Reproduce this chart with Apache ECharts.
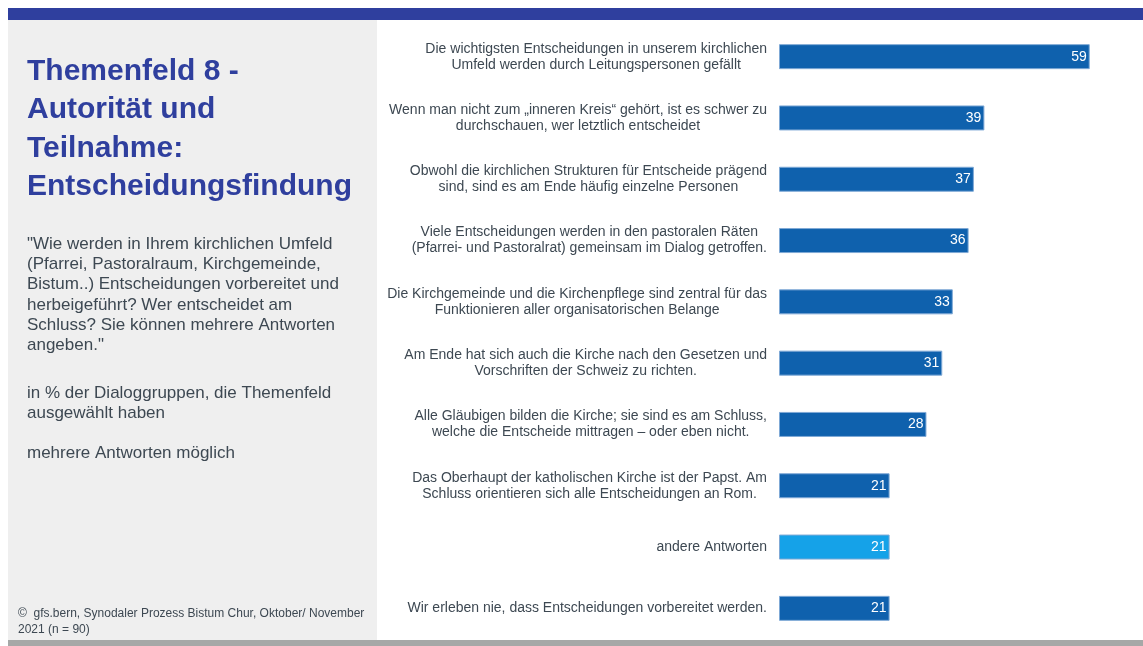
<!DOCTYPE html>
<html>
<head>
<meta charset="utf-8">
<script src="https://cdn.jsdelivr.net/npm/echarts@6/dist/echarts.min.js"></script>
<style>
  html, body { margin: 0; padding: 0; background: #fff; }
  #chart { width: 1143px; height: 646px; }
</style>
</head>
<body>
<div id="chart"></div>
<script>
// answers, top to bottom (two lines each where the slide breaks them)
const categories = [
  "Die wichtigsten Entscheidungen in unserem kirchlichen\nUmfeld werden durch Leitungspersonen gefällt",
  "Wenn man nicht zum „inneren Kreis“ gehört, ist es schwer zu\ndurchschauen, wer letztlich entscheidet",
  "Obwohl die kirchlichen Strukturen für Entscheide prägend\nsind, sind es am Ende häufig einzelne Personen",
  "Viele Entscheidungen werden in den pastoralen Räten\n(Pfarrei- und Pastoralrat) gemeinsam im Dialog getroffen.",
  "Die Kirchgemeinde und die Kirchenpflege sind zentral für das\nFunktionieren aller organisatorischen Belange",
  "Am Ende hat sich auch die Kirche nach den Gesetzen und\nVorschriften der Schweiz zu richten.",
  "Alle Gläubigen bilden die Kirche; sie sind es am Schluss,\nwelche die Entscheide mittragen – oder eben nicht.",
  "Das Oberhaupt der katholischen Kirche ist der Papst. Am\nSchluss orientieren sich alle Entscheidungen an Rom.",
  "andere Antworten",
  "Wir erleben nie, dass Entscheidungen vorbereitet werden."
];
const values = [59, 39, 37, 36, 33, 31, 28, 21, 21, 21];

const titleText = "Themenfeld 8 -\nAutorität und\nTeilnahme:\nEntscheidungsfindung";
const questionText = "\"Wie werden in Ihrem kirchlichen Umfeld\n(Pfarrei, Pastoralraum, Kirchgemeinde,\nBistum..) Entscheidungen vorbereitet und\nherbeigeführt? Wer entscheidet am\nSchluss? Sie können mehrere Antworten\nangeben.\"";
const baseText = "in % der Dialoggruppen, die Themenfeld\nausgewählt haben";
const noteText = "mehrere Antworten möglich";
const sourceText = "©  gfs.bern, Synodaler Prozess Bistum Chur, Oktober/ November\n2021 (n = 90)";

const chart = echarts.init(document.getElementById("chart"));

const option = {
  backgroundColor: "#ffffff",
  textStyle: { fontFamily: "Liberation Sans, Arial, sans-serif" },
  title: {
    text: titleText,
    left: 27,
    top: 52,
    padding: 0,
    textStyle: {
      color: "#2f3f9e",
      fontSize: 30,
      fontWeight: "bold",
      lineHeight: 38.5,
      fontFamily: "Liberation Sans, Arial, sans-serif"
    }
  },
  graphic: [
    // top band, left panel and bottom band
    { type: "rect", z: -10, shape: { x: 8, y: 8, width: 1135, height: 12 }, style: { fill: "#2f3f9e" } },
    { type: "rect", z: -10, shape: { x: 8, y: 20, width: 369, height: 620 }, style: { fill: "#efefef" } },
    { type: "rect", z: -10, shape: { x: 8, y: 640, width: 1135, height: 6 }, style: { fill: "#a6a8a7" } },
    {
      type: "text", left: 27, top: 234,
      style: { text: questionText, fill: "#3d4852", font: "17px Liberation Sans, Arial, sans-serif", lineHeight: 20.3 }
    },
    {
      type: "text", left: 27, top: 383,
      style: { text: baseText, fill: "#3d4852", font: "17px Liberation Sans, Arial, sans-serif", lineHeight: 20.3 }
    },
    {
      type: "text", left: 27, top: 443,
      style: { text: noteText, fill: "#3d4852", font: "17px Liberation Sans, Arial, sans-serif", lineHeight: 20.3 }
    },
    {
      type: "text", left: 18, top: 606,
      style: { text: sourceText, fill: "#3d4852", font: "12px Liberation Sans, Arial, sans-serif", lineHeight: 16 }
    }
  ],
  grid: {
    left: 779,
    right: 48,
    top: 26,
    bottom: 7,
    containLabel: false
  },
  xAxis: {
    type: "value",
    min: 0,
    max: 60,
    show: false
  },
  yAxis: {
    type: "category",
    inverse: true,
    data: categories,
    axisLine: { show: false },
    axisTick: { show: false },
    splitLine: { show: false },
    axisLabel: {
      margin: 12,
      color: "#3d4852",
      fontSize: 14,
      lineHeight: 16,
      // centre the lines of each label inside its own block
      formatter: function (value) {
        return value.split("\n").map(function (l) { return "{c|" + l + "}"; }).join("\n");
      },
      rich: {
        c: { align: "center", fontSize: 14, lineHeight: 16, color: "#3d4852" }
      }
    }
  },
  series: [
    {
      type: "bar",
      data: values,
      barWidth: 25,
      itemStyle: {
        color: function (params) {
          return params.name === "andere Antworten" ? "#15a2e8" : "#0f61ad";
        },
        borderColor: "#7fa9d6",
        borderWidth: 1
      },
      label: {
        show: true,
        position: "insideRight",
        distance: 3,
        color: "#ffffff",
        fontSize: 14
      }
    }
  ]
};

chart.setOption(option);
</script>
</body>
</html>
